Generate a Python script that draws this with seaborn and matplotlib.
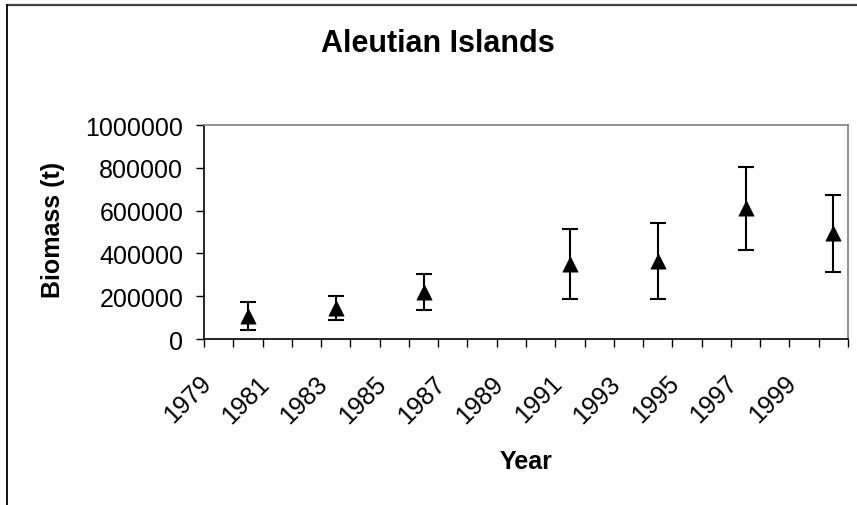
import numpy as np
import pandas as pd
import seaborn as sns
import matplotlib
matplotlib.use("Agg")
import matplotlib.pyplot as plt
from matplotlib.lines import Line2D

# Survey years and biomass estimates with error half-widths
years = [1980, 1983, 1986, 1991, 1994, 1997, 2000]
biomass = [107000, 145000, 220000, 351000, 365000, 611000, 493000]
error = [64000, 55000, 86000, 165000, 179000, 195000, 179000]

# Category axis runs over every year; every other year is labelled
all_years = list(range(1979, 2001))
tick_labels = [str(y) for y in range(1979, 2000, 2)]
y_ticks = [0, 200000, 400000, 600000, 800000, 1000000]

sns.set_style("white")
plt.rcParams["font.family"] = ["Liberation Sans", "DejaVu Sans"]
plt.rcParams["text.color"] = "black"
plt.rcParams["xtick.color"] = "black"
plt.rcParams["ytick.color"] = "black"
plt.rcParams["axes.labelcolor"] = "black"

df = pd.DataFrame({"year": years, "biomass": biomass, "err": error})
df["pos"] = [all_years.index(y) for y in df["year"]]

fig = plt.figure(figsize=(8.57, 5.06), dpi=100)
ax = fig.add_axes([204 / 857, 1 - 340 / 506, (848 - 204) / 857, (340 - 126) / 506])

ax.errorbar(df["pos"], df["biomass"], yerr=df["err"], fmt="none",
            ecolor="black", elinewidth=1.5, capsize=5.5, capthick=1.5, zorder=2)
sns.scatterplot(data=df, x="pos", y="biomass", marker="^", s=120,
                color="black", edgecolor="black", linewidth=0.5, ax=ax, zorder=3)

ax.set_xlim(-0.5, len(all_years) - 0.5)
ax.set_ylim(0, 1000000)
ax.set_yticks(y_ticks)
ax.set_yticklabels([str(v) for v in y_ticks])

# Rotated labels are anchored slightly left of each category centre
label_pos = [all_years.index(int(t)) - 0.4 for t in tick_labels]
ax.set_xticks(label_pos)
ax.set_xticklabels(tick_labels, rotation=45, ha="right", va="center",
                   rotation_mode="anchor")
ax.set_xticks(np.arange(-0.5, len(all_years)), minor=True)
ax.tick_params(axis="x", which="major", length=0, pad=29, labelsize=18)
ax.tick_params(axis="x", which="minor", length=6, width=1, direction="out",
               color="black", bottom=True)
ax.tick_params(axis="y", length=6, width=1, direction="out", pad=9,
               labelsize=18, color="black", left=True)

for side in ["left", "bottom"]:
    ax.spines[side].set_color("black")
    ax.spines[side].set_linewidth(1.2)
for side in ["top", "right"]:
    ax.spines[side].set_visible(True)
    ax.spines[side].set_color("#808080")
    ax.spines[side].set_linewidth(1.2)

ax.set_xlabel("")
ax.set_ylabel("")
fig.text(526 / 857, 1 - 462 / 506, "Year", ha="center", va="center",
         fontsize=18, fontweight="bold")
fig.text(53 / 857, 1 - 230 / 506, "Biomass (t)", ha="center", va="center",
         rotation=90, fontsize=18, fontweight="bold")
fig.text(438 / 857, 1 - 44 / 506, "Aleutian Islands", ha="center", va="center",
         fontsize=22, fontweight="bold")

# Chart frame edges
fig.add_artist(Line2D([7 / 857, 1], [1 - 5.5 / 506, 1 - 5.5 / 506],
                      transform=fig.transFigure, color="#404040", linewidth=1.6))
fig.add_artist(Line2D([7 / 857, 7 / 857], [0, 1 - 5.5 / 506],
                      transform=fig.transFigure, color="black", linewidth=1.3))

fig.savefig("out.png", dpi=100)
